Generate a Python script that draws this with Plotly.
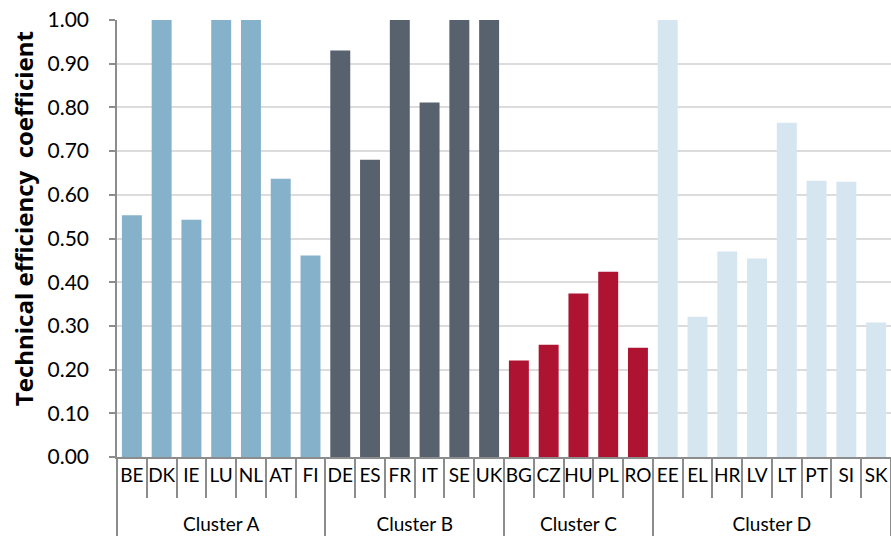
import plotly.graph_objects as go

# Technical efficiency coefficients by country, grouped into four clusters
clusters = ["Cluster A", "Cluster B", "Cluster C", "Cluster D"]
countries_a = ["BE", "DK", "IE", "LU", "NL", "AT", "FI"]
values_a = [0.553, 1.00, 0.543, 1.00, 1.00, 0.637, 0.461]
countries_b = ["DE", "ES", "FR", "IT", "SE", "UK"]
values_b = [0.930, 0.680, 1.00, 0.811, 1.00, 1.00]
countries_c = ["BG", "CZ", "HU", "PL", "RO"]
values_c = [0.221, 0.257, 0.374, 0.424, 0.250]
countries_d = ["EE", "EL", "HR", "LV", "LT", "PT", "SI", "SK"]
values_d = [1.00, 0.321, 0.470, 0.454, 0.765, 0.632, 0.630, 0.308]
colors = ["#86B1CB", "#57626E", "#AE1432", "#D6E6F0"]

y_ticks = [i / 10 for i in range(11)]
y_tick_labels = [f"{t:.2f}" for t in y_ticks]
y_title = "Technical efficiency\u00a0 coefficient"

groups = [
    (clusters[0], countries_a, values_a, colors[0]),
    (clusters[1], countries_b, values_b, colors[1]),
    (clusters[2], countries_c, values_c, colors[2]),
    (clusters[3], countries_d, values_d, colors[3]),
]

x_outer, x_inner, y_vals, bar_colors = [], [], [], []
for name, ctry, vals, col in groups:
    # leading line break drops the cluster label below the tick marks
    x_outer += ["<br>" + name] * len(ctry)
    x_inner += ctry
    y_vals += vals
    bar_colors += [col] * len(ctry)

FONT = "Lato, Carlito, Calibri, sans-serif"
AXIS_GREY = "#8c8c8c"

fig = go.Figure(
    go.Bar(
        x=[x_outer, x_inner],
        y=y_vals,
        marker=dict(color=bar_colors, line=dict(width=0)),
        hovertemplate="%{y:.2f}<extra></extra>",
    )
)

fig.update_layout(
    width=891,
    height=537,
    margin=dict(l=117, r=0, t=20, b=80),
    paper_bgcolor="white",
    plot_bgcolor="white",
    bargap=0.33,
    showlegend=False,
    font=dict(family=FONT, color="#000000"),
)

fig.update_xaxes(
    type="multicategory",
    showline=True,
    linecolor=AXIS_GREY,
    linewidth=1.5,
    ticks="outside",
    tickson="boundaries",
    ticklen=39,
    tickcolor=AXIS_GREY,
    tickwidth=1.5,
    tickangle=0,
    dividercolor=AXIS_GREY,
    dividerwidth=1.5,
    tickfont=dict(size=19, family=FONT, color="#000000"),
    showgrid=False,
)

fig.update_yaxes(
    range=[0, 1],
    tickvals=y_ticks,
    ticktext=y_tick_labels,
    showline=True,
    linecolor=AXIS_GREY,
    linewidth=1.5,
    ticks="outside",
    ticklen=6,
    tickcolor=AXIS_GREY,
    tickwidth=1.5,
    ticklabelstandoff=16,
    tickfont=dict(size=21, family=FONT, color="#000000"),
    showgrid=True,
    gridcolor="#dcdcdc",
    gridwidth=1.5,
    zeroline=False,
)

# Rotated y-axis title placed beside the tick labels
fig.add_annotation(
    text=f"<b>{y_title}</b>",
    textangle=-90,
    xref="paper",
    yref="paper",
    x=-0.121,
    y=0.545,
    xanchor="center",
    yanchor="middle",
    showarrow=False,
    font=dict(size=24, family="Open Sans, sans-serif", color="#000000"),
)

fig.write_html("out.html")
